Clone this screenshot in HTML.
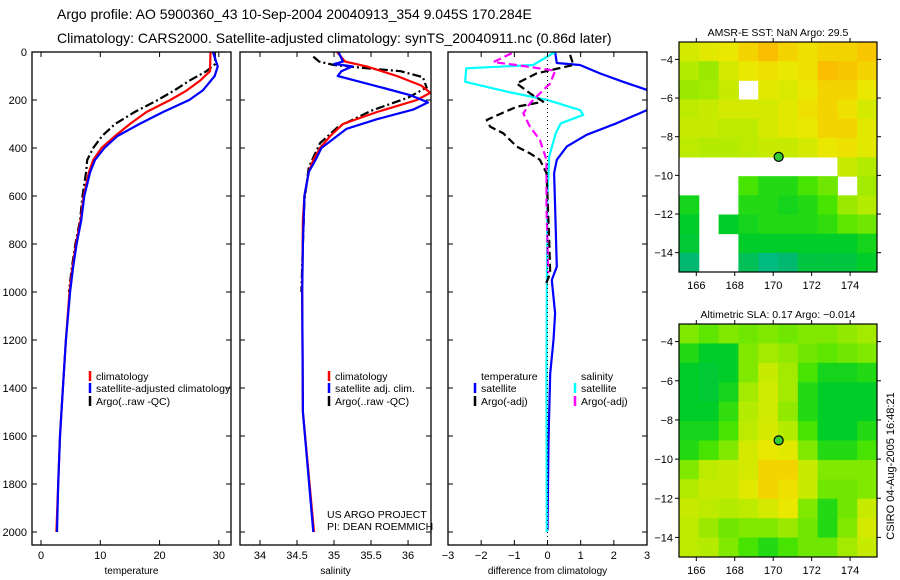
<!DOCTYPE html>
<html><head><meta charset="utf-8">
<style>
html,body{margin:0;padding:0;background:#fff;}
svg{display:block;font-family:"Liberation Sans",sans-serif;}
</style></head>
<body>
<svg id="fig" width="900" height="580" viewBox="0 0 900 580">
<text x="57" y="19" font-size="14">Argo profile: AO 5900360_43 10-Sep-2004 20040913_354 9.045S 170.284E</text>
<text x="57" y="43" font-size="14">Climatology: CARS2000. Satellite-adjusted climatology: synTS_20040911.nc (0.86d later)</text>
<g id="g"></g>
</svg>
<script>
// ---------- profile data ----------
const tClimDepth=[0,80,120,160,200,250,300,350,400,450,500,600,700,800,900,1000,1200,1400,1600,1800,2000];
const tClimVal=[28.6,28.5,26.8,24.6,21.8,17.8,15.0,12.5,10.2,8.8,8.1,7.2,6.7,5.9,5.3,4.8,4.2,3.7,3.2,2.9,2.6];
const tSatDepth=[0,60,100,160,200,250,300,350,400,450,500,600,700,800,900,1000,1200,1400,1600,1800,2000];
const tSatVal=[29.0,29.8,29.3,27.3,25.0,20.6,16.6,12.9,10.7,9.1,8.3,7.3,6.8,6.0,5.4,4.9,4.2,3.7,3.2,2.9,2.7];
const tArgoDepth=[0,50,80,120,160,200,250,300,350,400,450,500,600,700,800,900,1000];
const tArgoVal=[29.3,29.4,27.9,25.0,22.5,19.7,15.8,12.5,10.3,8.8,7.8,7.6,7.0,6.6,5.8,5.2,4.7];
const sClimDepth=[0,40,60,100,140,170,200,250,300,350,400,450,500,600,700,1000,1500,2000];
const sClimVal=[35.04,35.15,35.44,35.85,36.18,36.3,36.12,35.58,35.12,34.95,34.81,34.72,34.66,34.6,34.58,34.57,34.58,34.73];
const sSatDepth=[0,40,50,60,80,100,120,150,180,210,240,280,320,360,400,450,500,600,800,1000,1500,2000];
const sSatVal=[35.06,35.12,35.0,35.25,35.1,35.05,35.3,35.67,36.03,36.27,36.07,35.58,35.17,35.0,34.83,34.75,34.66,34.6,34.58,34.57,34.58,34.72];
const sArgoDepth=[19,40,54,68,80,105,148,190,245,313,380,480,620,800,1000];
const sArgoVal=[34.72,34.8,35.0,35.45,35.9,36.2,36.25,36.0,35.5,35.05,34.81,34.66,34.6,34.58,34.56];
const dTSatDepth=[0,46,54,89,124,158,200,242,297,345,394,449,505,644,894,950,1089,1200,1340,1618,1993];
const dTSatVal=[0.23,0.28,0.98,1.58,2.28,3.0,3.4,3.0,2.08,1.18,0.58,0.28,0.2,0.23,0.28,0.13,0.23,0.18,0.08,0.03,0.0];
const dSSatDepth=[0,54,68,124,165,200,242,262,297,338,436,600,1000,1400,2000];
const dSSatVal=[0.23,-0.43,-2.45,-2.48,-1.23,0.0,0.98,1.08,0.4,0.25,0.05,0.0,-0.02,-0.03,-0.02];
const dTArgoDepth=[12,54,89,131,172,207,228,283,311,339,394,422,449,505,783,922,978];
const dTArgoVal=[0.68,0.78,-0.33,-0.93,-0.53,-0.13,-0.93,-1.83,-1.73,-1.33,-0.93,-0.53,-0.23,-0.03,0.05,0.08,-0.08];
const dSArgoDepth=[5,42,54,78,131,172,214,256,311,367,449,644,922];
const dSArgoVal=[-1.08,-1.63,-0.93,0.23,0.08,-0.23,-0.53,-0.73,-0.53,-0.23,-0.03,-0.03,0.02];
const depthTicks=[0,200,400,600,800,1000,1200,1400,1600,1800,2000];
const tempTicks=[0,10,20,30];
const salTicks=[34,34.5,35,35.5,36];
const diffTicks=[-3,-2,-1,0,1,2,3];
// ---------- map data (values 0..1 on colour scale, null = missing) ----------
const lonTicks=[166,168,170,172,174];
const latTicks=[-4,-6,-8,-10,-12,-14];
const N=null;
const sstGrid=[
[0.75,0.78,0.8,0.85,0.9,0.85,0.82,0.85,0.85,0.88],
[0.68,0.65,0.75,0.8,0.82,0.8,0.82,0.9,0.88,0.85],
[0.65,0.66,0.72,N,0.78,0.76,0.8,0.85,0.85,0.8],
[0.7,0.72,0.75,0.75,0.75,0.78,0.82,0.85,0.82,0.75],
[0.72,0.72,0.7,0.7,0.75,0.78,0.8,0.85,0.85,0.78],
[0.7,0.68,0.68,0.7,0.72,0.72,0.75,0.8,0.82,0.78],
[N,N,N,N,N,N,N,N,0.72,0.68],
[N,N,N,0.55,0.5,0.5,0.55,0.6,N,0.66],
[0.48,N,N,0.5,0.5,0.48,0.5,0.55,0.65,0.68],
[0.45,N,0.45,0.48,0.5,0.5,0.5,0.52,0.58,0.6],
[0.42,N,N,0.45,0.45,0.45,0.45,0.45,0.45,0.48],
[0.3,N,N,0.35,0.25,0.3,0.4,0.4,0.4,0.45]];
const slaGrid=[
[0.62,0.58,0.62,0.6,0.62,0.6,0.62,0.62,0.64,0.66],
[0.5,0.45,0.45,0.62,0.66,0.64,0.6,0.58,0.6,0.62],
[0.45,0.42,0.45,0.62,0.72,0.66,0.55,0.48,0.48,0.5],
[0.45,0.42,0.48,0.66,0.74,0.66,0.5,0.45,0.45,0.45],
[0.45,0.45,0.52,0.68,0.74,0.64,0.5,0.45,0.45,0.45],
[0.48,0.48,0.55,0.7,0.75,0.68,0.55,0.45,0.45,0.5],
[0.5,0.55,0.62,0.75,0.8,0.78,0.62,0.5,0.5,0.55],
[0.62,0.7,0.72,0.75,0.85,0.85,0.72,0.62,0.62,0.62],
[0.68,0.72,0.72,0.78,0.85,0.82,0.72,0.6,0.6,0.62],
[0.72,0.7,0.68,0.7,0.75,0.8,0.62,0.5,0.6,0.72],
[0.7,0.65,0.6,0.62,0.62,0.65,0.6,0.5,0.62,0.75],
[0.7,0.68,0.62,0.55,0.5,0.55,0.6,0.6,0.66,0.72]];
const argoLon=170.284, argoLat=-9.045;

const NS='http://www.w3.org/2000/svg';
const G=document.getElementById('g');
function mk(tag,attrs,parent){const e=document.createElementNS(NS,tag);for(const k in attrs)e.setAttribute(k,attrs[k]);(parent||G).appendChild(e);return e;}
function txt(x,y,s,size,anchor,parent){const t=mk('text',{x:x,y:y,'font-size':size,'text-anchor':anchor||'start'},parent);t.textContent=s;return t;}

const yTop=52, yPx=0.24, yBot=545;
const yD=d=>yTop+d*yPx;
const panels=[
 {name:'temperature-panel',x0:32,x1:231,xmin:-1.52,xmax:32.05,ticks:tempTicks,label:'temperature'},
 {name:'salinity-panel',x0:240,x1:431,xmin:33.73,xmax:36.31,ticks:salTicks,label:'salinity'},
 {name:'difference-panel',x0:448,x1:647,xmin:-3,xmax:3,ticks:diffTicks,label:'difference from climatology'}];
panels.forEach((p,i)=>{
  p.sx=v=>p.x0+(v-p.xmin)/(p.xmax-p.xmin)*(p.x1-p.x0);
  const g=mk('g',{});
  
  
  p.g=g;
  const cp=mk('clipPath',{id:'cp'+i},g);mk('rect',{x:p.x0,y:yTop-1,width:p.x1-p.x0,height:yBot-yTop+1},cp);
  p.clip=mk('g',{'clip-path':'url(#cp'+i+')'},g);
  mk('rect',{x:p.x0,y:yTop,width:p.x1-p.x0,height:yBot-yTop,fill:'none',stroke:'#000','stroke-width':1.3},g);
  p.ticks.forEach(t=>{const x=p.sx(t);
    mk('line',{x1:x,x2:x,y1:yBot,y2:yBot-5,stroke:'#000'},g);
    mk('line',{x1:x,x2:x,y1:yTop,y2:yTop+5,stroke:'#000'},g);
    const l=txt(x,yBot+14,String(t).replace('-','\u2212'),11,'middle',g);
    
    
  });
  depthTicks.forEach(d=>{const y=yD(d);
    mk('line',{x1:p.x0,x2:p.x0+5,y1:y,y2:y,stroke:'#000'},g);
    mk('line',{x1:p.x1,x2:p.x1-5,y1:y,y2:y,stroke:'#000'},g);
    if(i===0){const l=txt(27,y+4,String(d),11,'end',g);
      
      }
  });
  const xl=txt((p.x0+p.x1)/2,574,p.label,10,'middle',g);
  
  
});
function line(p,depths,vals,color,dash,name){
  const pts=depths.map((d,k)=>p.sx(vals[k]).toFixed(1)+','+yD(d).toFixed(1)).join(' ');
  const e=mk('polyline',{points:pts,fill:'none',stroke:color,'stroke-width':2.2,'stroke-dasharray':dash||'none','stroke-linejoin':'round'},p.clip);
  
  
}
const P=panels;
mk('line',{x1:P[2].sx(0),x2:P[2].sx(0),y1:yTop,y2:yBot,stroke:'#000','stroke-dasharray':'1,3'},P[2].g);
line(P[0],tArgoDepth,tArgoVal,'#000','9,3,2,3','temp-argo-line');
line(P[0],tClimDepth,tClimVal,'#f00','','temp-climatology-line');
line(P[0],tSatDepth,tSatVal,'#00f','','temp-satellite-line');
line(P[1],sArgoDepth,sArgoVal,'#000','9,3,2,3','sal-argo-line');
line(P[1],sClimDepth,sClimVal,'#f00','','sal-climatology-line');
line(P[1],sSatDepth,sSatVal,'#00f','','sal-satellite-line');
line(P[2],dTSatDepth,dTSatVal,'#00f','','diff-temp-satellite-line');
line(P[2],dSSatDepth,dSSatVal,'#0ff','','diff-sal-satellite-line');
line(P[2],dTArgoDepth,dTArgoVal,'#000','8,4','diff-temp-argo-line');
line(P[2],dSArgoDepth,dSArgoVal,'#f0f','8,4','diff-sal-argo-line');

function legend(x,y,color,label,parent){
  const g=mk('g',{},parent);
  
  
  if(color) mk('line',{x1:x,x2:x,y1:y-9,y2:y+1,stroke:color,'stroke-width':2.5},g);
  txt(x+6,y,label,10.5,'start',g);
}
legend(90,380,'#f00','climatology',P[0].g);
legend(90,392,'#00f','satellite-adjusted climatology',P[0].g);
legend(90,405,'#000','Argo(..raw -QC)',P[0].g);
legend(329,380,'#f00','climatology',P[1].g);
legend(329,392,'#00f','satellite adj. clim.',P[1].g);
legend(329,405,'#000','Argo(..raw -QC)',P[1].g);
legend(475,380,null,'temperature',P[2].g);
legend(475,392,'#00f','satellite',P[2].g);
legend(475,405,'#000','Argo(-adj)',P[2].g);
legend(575,380,null,'salinity',P[2].g);
legend(575,392,'#0ff','satellite',P[2].g);
legend(575,405,'#f0f','Argo(-adj)',P[2].g);
const pr=txt(327,518,'US ARGO PROJECT',10.5,'start',P[1].g);


const pi=txt(327,530,'PI: DEAN ROEMMICH',10.5,'start',P[1].g);



// ---------- maps ----------
const stops=[[0,[0,200,220]],[0.3,[0,185,110]],[0.45,[0,205,40]],[0.55,[70,228,0]],[0.68,[180,235,0]],[0.8,[235,232,0]],[0.9,[250,190,0]],[1,[245,150,0]]];
function cmap(t){for(let i=1;i<stops.length;i++){if(t<=stops[i][0]){const a=stops[i-1],b=stops[i],f=(t-a[0])/(b[0]-a[0]);return 'rgb('+a[1].map((c,k)=>Math.round(c+(b[1][k]-c)*f)).join(',')+')';}}return 'rgb(245,150,0)';}
const lonMin=165.1,lonMax=175.4,latMax=-3.1,latMin=-15.0;
function drawMap(name,grid,x0,x1,y0,y1,title){
  const g=mk('g',{});
  
  
  const sx=lo=>x0+(lo-lonMin)/(lonMax-lonMin)*(x1-x0);
  const sy=la=>y0+(latMax-la)/(latMax-latMin)*(y1-y0);
  const rows=grid.length, cols=grid[0].length;
  const dlon=(lonMax-lonMin)/cols, dlat=(latMax-latMin)/rows;
  grid.forEach((row,r)=>row.forEach((v,c)=>{
    if(v===null) return;
    const xa=sx(lonMin+c*dlon), xb=sx(lonMin+(c+1)*dlon), ya=sy(latMax-r*dlat), yb=sy(latMax-(r+1)*dlat);
    const cell=mk('rect',{x:xa,y:ya,width:xb-xa+0.5,height:yb-ya+0.5,fill:cmap(v)},g);
    
    
  }));
  mk('rect',{x:x0,y:y0,width:x1-x0,height:y1-y0,fill:'none',stroke:'#000','stroke-width':1.2},g);
  lonTicks.forEach(lo=>{const x=sx(lo);
    mk('line',{x1:x,x2:x,y1:y1,y2:y1+4,stroke:'#000'},g);
    mk('line',{x1:x,x2:x,y1:y0,y2:y0-4,stroke:'#000'},g);
    const l=txt(x,y1+17,String(lo),11,'middle',g);
    
    });
  latTicks.forEach(la=>{const y=sy(la);
    mk('line',{x1:x0,x2:x0-4,y1:y,y2:y,stroke:'#000'},g);
    mk('line',{x1:x1,x2:x1+4,y1:y,y2:y,stroke:'#000'},g);
    const l=txt(x0-6,y+4,String(la).replace('-','\u2212'),11,'end',g);
    
    });
  const dot=mk('circle',{cx:sx(argoLon),cy:sy(argoLat),r:4.5,fill:'#3c3',stroke:'#000','stroke-width':1.2},g);
  
  
  const t=txt((x0+x1)/2,y0-6,title,10.5,'middle',g);
  
  
}
drawMap('sst-map',sstGrid,679,877,42,272,'AMSR-E SST: NaN Argo: 29.5');
drawMap('sla-map',slaGrid,679,877,324,557,'Altimetric SLA: 0.17 Argo: \u22120.014');
const cs=txt(0,0,'CSIRO 04-Aug-2005 16:48:21',11,'middle');
cs.setAttribute('transform','translate(894,466) rotate(-90)');


</script>
</body></html>
